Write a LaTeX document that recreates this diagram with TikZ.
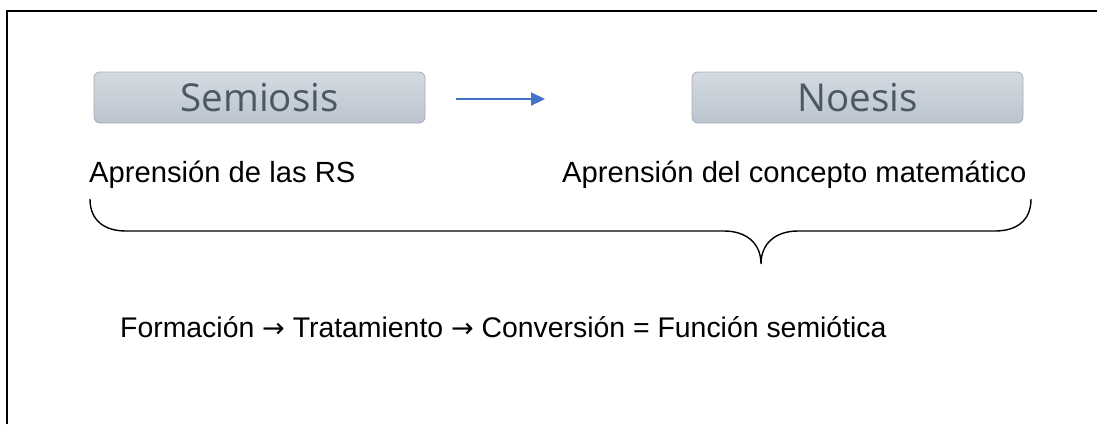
\documentclass[tikz,border=0pt]{standalone}
\usepackage{fontspec}
\setmainfont{Liberation Sans}
\newfontfamily\boxfont{Open Sans}
\newfontfamily\arrowfont{DejaVu Sans}
\usetikzlibrary{arrows.meta}
\definecolor{boxtop}{HTML}{D4DAE1}
\definecolor{boxbot}{HTML}{BBC4CE}
\definecolor{boxline}{HTML}{A5AFBA}
\definecolor{boxtext}{HTML}{4A5866}
\definecolor{arrowblue}{HTML}{4472C4}
\newcommand{\flowto}{{\arrowfont\fontsize{27}{30}\selectfont →}}
\tikzset{
  stagebox/.style={draw=boxline, line width=0.8pt, rounded corners=6pt,
    top color=boxtop, bottom color=boxbot, minimum width=331pt,
    minimum height=51pt, inner sep=0pt, text=boxtext,
    font=\boxfont\fontsize{38.5}{40}\selectfont},
  label/.style={anchor=base west, inner sep=0pt,
    font=\fontsize{29.2}{32}\selectfont},
  flowlabel/.style={label, font=\fontsize{28.4}{32}\selectfont},
  frameline/.style={line width=2.5pt, black},
  bracepath/.style={line width=1.4pt, black},
  flowarrow/.style={arrowblue, line width=2.2pt,
    -{Triangle[length=14pt,width=13pt]}}
}
\begin{document}
\begin{tikzpicture}[x=1pt,y=-1pt]
  \useasboundingbox (0,0) rectangle (1097,424);
  % outer frame (top and left edges)
  \coordinate (fa) at (7,424);
  \coordinate (fb) at (7,11);
  \coordinate (fc) at (1100,11);
  \draw[frameline] (fa) -- (fb) -- (fc);

  % the two stages
  \node[stagebox] (semiosis) at (259.5,97.5) {Semiosis};
  \node[stagebox] (noesis) at (857.5,97.5) {Noesis};
  \coordinate (arrA) at (456,99);
  \coordinate (arrB) at (545,99);
  \draw[flowarrow] (arrA) -- (arrB);

  % captions
  \node[label] (rs) at (89,182) {Aprensión de las RS};
  \node[label] (concepto) at (562,182) {Aprensión del concepto matemático};

  % brace gathering both captions
  \coordinate (bl) at (90,199);
  \coordinate (br) at (1031,199);
  \coordinate (tip) at (761,264);
  \draw[bracepath] (bl) .. controls (90,221) and (105,231) .. (126,231)
    -- (724,231) .. controls (746,231) and (761,243) .. (tip)
    .. controls (761,243) and (776,231) .. (798,231)
    -- (995,231) .. controls (1016,231) and (1031,221) .. (br);

  % process line
  \node[flowlabel] (proceso) at (120,337)
    {Formación \flowto{} Tratamiento \flowto{} Conversión = Función semiótica};
\end{tikzpicture}
\end{document}
